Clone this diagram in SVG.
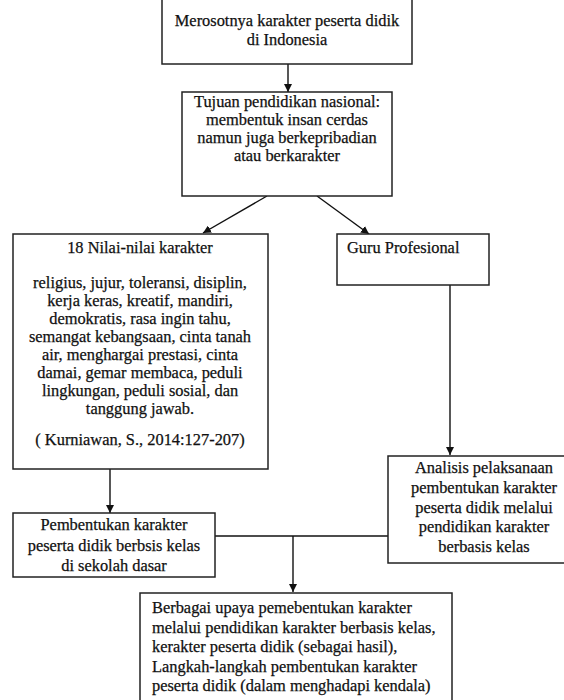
<svg xmlns="http://www.w3.org/2000/svg" width="564" height="700" viewBox="0 0 564 700">
<defs>
<marker id="ah" viewBox="0 0 10 10" refX="10" refY="5" markerWidth="8" markerHeight="8" markerUnits="userSpaceOnUse" orient="auto">
<path d="M0,0 L10,5 L0,10 z" fill="#111"/>
</marker>
<style>
.box{fill:#fff;stroke:#222;stroke-width:1.5}
.t{font-family:"Liberation Serif","Times New Roman",serif;font-size:16.4px;fill:#111;stroke:#111;stroke-width:0.25}
.c{text-anchor:middle}
.ln{stroke:#111;stroke-width:1.4;fill:none}
</style>
</defs>
<rect width="564" height="700" fill="#fff"/>
<g id="connectors">
<line class="ln" x1="288" y1="64" x2="288" y2="92" marker-end="url(#ah)"/>
<line class="ln" x1="267" y1="196" x2="203" y2="233" marker-end="url(#ah)"/>
<line class="ln" x1="317" y1="196" x2="369" y2="234" marker-end="url(#ah)"/>
<line class="ln" x1="450" y1="285" x2="450" y2="455" marker-end="url(#ah)"/>
<line class="ln" x1="110" y1="469" x2="110" y2="513" marker-end="url(#ah)"/>
<line class="ln" x1="215" y1="536" x2="388" y2="536"/>
<line class="ln" x1="293" y1="536" x2="293" y2="592" marker-end="url(#ah)"/>
</g>
<g id="n1">
<rect class="box" x="162" y="-5" width="250" height="69"/>
<text class="t c" x="287" y="26">Merosotnya karakter peserta didik</text>
<text class="t c" x="287" y="45">di Indonesia</text>
</g>
<g id="n2">
<rect class="box" x="182" y="92" width="210" height="104"/>
<text class="t c" x="287" y="107">Tujuan pendidikan nasional:</text>
<text class="t c" x="287" y="125">membentuk insan cerdas</text>
<text class="t c" x="287" y="143">namun juga berkepribadian</text>
<text class="t c" x="287" y="161">atau berkarakter</text>
</g>
<g id="n3">
<rect class="box" x="13" y="234" width="255" height="235"/>
<text class="t c" x="140" y="253">18 Nilai-nilai karakter</text>
<text class="t c" x="140" y="288">religius, jujur, toleransi, disiplin,</text>
<text class="t c" x="140" y="306">kerja keras, kreatif, mandiri,</text>
<text class="t c" x="140" y="324">demokratis, rasa ingin tahu,</text>
<text class="t c" x="140" y="342">semangat kebangsaan, cinta tanah</text>
<text class="t c" x="140" y="360">air, menghargai prestasi, cinta</text>
<text class="t c" x="140" y="378">damai, gemar membaca, peduli</text>
<text class="t c" x="140" y="396">lingkungan, peduli sosial, dan</text>
<text class="t c" x="140" y="414">tanggung jawab.</text>
<text class="t c" x="140" y="445">( Kurniawan, S., 2014:127-207)</text>
</g>
<g id="n4">
<rect class="box" x="337" y="234" width="152" height="51"/>
<text class="t" x="347" y="253">Guru Profesional</text>
</g>
<g id="n5">
<rect class="box" x="388" y="456" width="192" height="107"/>
<text class="t c" x="484" y="473">Analisis pelaksanaan</text>
<text class="t c" x="484" y="493">pembentukan karakter</text>
<text class="t c" x="484" y="513">peserta didik melalui</text>
<text class="t c" x="484" y="532">pendidikan karakter</text>
<text class="t c" x="484" y="552">berbasis kelas</text>
</g>
<g id="n6">
<rect class="box" x="13" y="513" width="202" height="64"/>
<text class="t c" x="114" y="530">Pembentukan karakter</text>
<text class="t c" x="114" y="551">peserta didik berbsis kelas</text>
<text class="t c" x="114" y="571">di sekolah dasar</text>
</g>
<g id="n7">
<rect class="box" x="140" y="593" width="312" height="120"/>
<text class="t" x="152" y="613">Berbagai upaya pemebentukan karakter</text>
<text class="t" x="152" y="633">melalui pendidikan karakter berbasis kelas,</text>
<text class="t" x="152" y="652">kerakter peserta didik (sebagai hasil),</text>
<text class="t" x="152" y="672">Langkah-langkah pembentukan karakter</text>
<text class="t" x="152" y="691">peserta didik (dalam menghadapi kendala)</text>
</g>
</svg>
